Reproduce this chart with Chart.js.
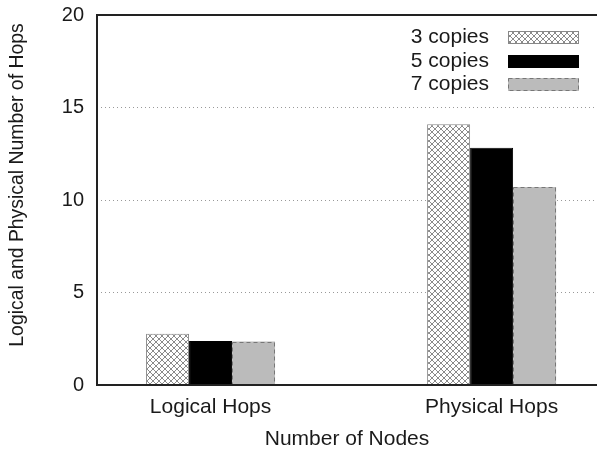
<!DOCTYPE html>
<html>
<head>
<meta charset="utf-8">
<script src="https://cdn.jsdelivr.net/npm/chart.js@4/dist/chart.umd.min.js"></script>
<style>
html,body{margin:0;padding:0;background:#fff;}
#wrap{width:597px;height:450px;position:relative;}
</style>
</head>
<body>
<div id="wrap"><canvas id="c" width="597" height="450"></canvas></div>
<script>
const categories = ['Logical Hops', 'Physical Hops'];
const seriesNames = ['3 copies', '5 copies', '7 copies'];
const copies3 = [2.77, 14.1];
const copies5 = [2.38, 12.83];
const copies7 = [2.35, 10.7];
const yTicks = [0, 5, 10, 15, 20];
const yTitle = 'Logical and Physical Number of Hops';
const xTitle = 'Number of Nodes';

const TEXT = '#1a1a1a';
const FONT = 'Liberation Sans, Arial, Helvetica, sans-serif';

function hatch() {
  const c = document.createElement('canvas');
  c.width = 6; c.height = 6;
  const g = c.getContext('2d');
  g.fillStyle = '#fff'; g.fillRect(0, 0, 6, 6);
  g.strokeStyle = '#8a8a8a'; g.lineWidth = 1;
  g.beginPath();
  g.moveTo(0, 0); g.lineTo(6, 6);
  g.moveTo(0, 6); g.lineTo(6, 0);
  g.stroke();
  return document.getElementById('c').getContext('2d').createPattern(c, 'repeat');
}
const hatchPattern = hatch();

const styles = [
  {bg: hatchPattern, border: '#888', dash: null},
  {bg: '#000000', border: '#000000', dash: null},
  {bg: '#bbbbbb', border: '#777777', dash: [4, 3]}
];
const seriesData = [copies3, copies5, copies7];

const datasets = seriesData.map((arr, i) => ({
  label: seriesNames[i],
  data: arr.map((v, k) => ({x: k, y: v})),
  backgroundColor: styles[i].bg,
  borderColor: styles[i].dash ? 'rgba(0,0,0,0)' : styles[i].border,
  borderWidth: styles[i].dash ? 0 : 1,
  categoryPercentage: 0.459,
  barPercentage: 1.0
}));

const dashPlugin = {
  id: 'dashBorders',
  afterDatasetsDraw(chart) {
    const ctx = chart.ctx;
    chart.data.datasets.forEach((ds, i) => {
      if (!styles[i].dash) return;
      const meta = chart.getDatasetMeta(i);
      meta.data.forEach(el => {
        const p = el.getProps(['x', 'y', 'base', 'width'], true);
        ctx.save();
        ctx.strokeStyle = styles[i].border;
        ctx.lineWidth = 1;
        ctx.setLineDash(styles[i].dash);
        ctx.strokeRect(Math.round(p.x - p.width / 2) + 0.5, Math.round(p.y) + 0.5, Math.round(p.width) - 1, Math.round(p.base - p.y));
        ctx.restore();
      });
    });
  }
};

const framePlugin = {
  id: 'frame',
  afterDraw(chart) {
    const a = chart.chartArea, ctx = chart.ctx;
    ctx.save();
    ctx.strokeStyle = '#222';
    ctx.lineWidth = 2;
    ctx.beginPath();
    ctx.moveTo(a.right, a.top);
    ctx.lineTo(a.left, a.top);
    ctx.lineTo(a.left, a.bottom);
    ctx.lineTo(a.right, a.bottom);
    ctx.stroke();
    // y axis title
    ctx.fillStyle = TEXT;
    ctx.font = '19.4px ' + FONT;
    ctx.textAlign = 'center';
    ctx.textBaseline = 'middle';
    ctx.translate(18, 185);
    ctx.rotate(-Math.PI / 2);
    ctx.fillText(yTitle, 0, 0);
    ctx.restore();
  }
};

const legendPlugin = {
  id: 'customLegend',
  afterDraw(chart) {
    const ctx = chart.ctx;
    const textRight = 489, boxL = 508, boxW = 71, boxH = 13;
    const rows = [37.5, 61, 84.5];
    ctx.save();
    ctx.font = '21px ' + FONT;
    ctx.textAlign = 'right';
    ctx.textBaseline = 'middle';
    chart.data.datasets.forEach((ds, i) => {
      const cy = rows[i];
      ctx.fillStyle = TEXT;
      ctx.fillText(ds.label, textRight, cy);
      const top = Math.round(cy - boxH / 2);
      ctx.fillStyle = styles[i].bg;
      ctx.fillRect(boxL, top, boxW, boxH);
      ctx.strokeStyle = styles[i].border;
      ctx.lineWidth = 1;
      ctx.setLineDash(styles[i].dash || []);
      ctx.strokeRect(boxL + 0.5, top + 0.5, boxW - 1, boxH - 1);
      ctx.setLineDash([]);
    });
    ctx.restore();
  }
};

new Chart(document.getElementById('c'), {
  type: 'bar',
  data: {datasets},
  plugins: [dashPlugin, framePlugin, legendPlugin],
  options: {
    responsive: false,
    animation: false,
    devicePixelRatio: 1,
    layout: {padding: {top: 15, right: 0, left: 0, bottom: 0}},
    plugins: {legend: {display: false}, tooltip: {enabled: false}},
    scales: {
      x: {
        type: 'linear',
        min: -0.404,
        max: 1.375,
        offset: false,
        grid: {display: false, offset: false, drawTicks: false},
        border: {display: false},
        afterBuildTicks(scale) { scale.ticks = categories.map((c, i) => ({value: i})); },
        afterFit(scale) { scale.height = 65; scale.paddingLeft = 0; scale.paddingRight = 0; },
        ticks: {
          padding: 10,
          color: TEXT,
          font: {family: FONT, size: 21},
          callback: (v) => categories[v] !== undefined ? categories[v] : ''
        },
        title: {
          display: true,
          text: xTitle,
          color: TEXT,
          font: {family: FONT, size: 21},
          padding: {top: 0, bottom: -2}
        }
      },
      y: {
        min: 0,
        max: 20,
        afterBuildTicks(scale) { scale.ticks = yTicks.map(v => ({value: v})); },
        afterFit(scale) { scale.width = 97; scale.paddingTop = 0; scale.paddingBottom = 0; },
        grid: {color: '#999', lineWidth: 1, drawTicks: false},
        border: {display: false, dash: [1, 3]},
        ticks: {padding: 13, color: TEXT, font: {family: FONT, size: 20}},
        title: {display: false}
      }
    }
  }
});
</script>
</body>
</html>
